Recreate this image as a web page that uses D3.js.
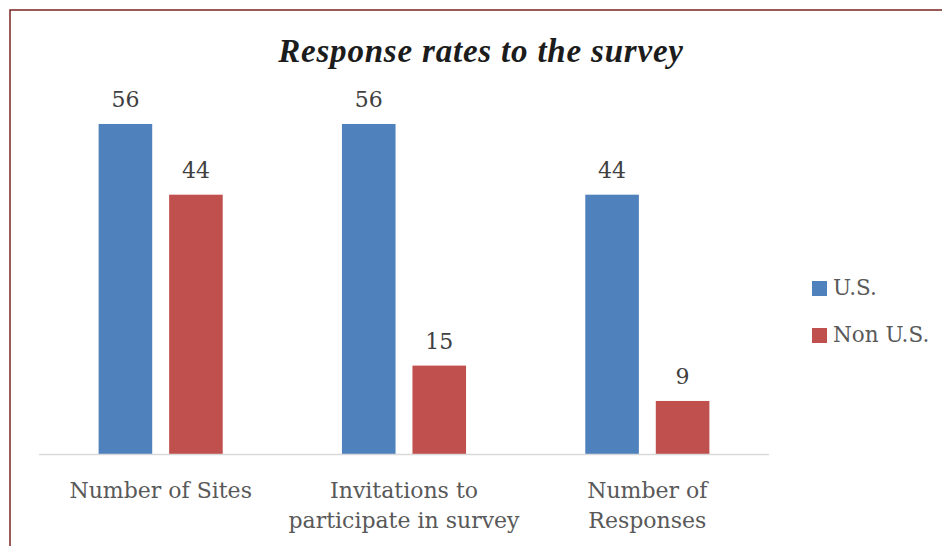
<!DOCTYPE html>
<html lang="en">
<head>
    <meta charset="utf-8">
    <title>Response rates to the survey</title>
    <script src="https://cdn.jsdelivr.net/npm/d3@7/dist/d3.min.js"></script>
    <style>
        body { margin: 0; background: #fff; }
        svg text { font-family: "DejaVu Serif", serif; }
    </style>
</head>
<body>
<div id="chart"></div>
<script>
    // data
    var categories = [["Number of Sites"], ["Invitations to", "participate in survey"], ["Number of", "Responses"]];
    var series = ["U.S.", "Non U.S."];
    var usValues = [56, 56, 44];
    var nonUsValues = [44, 15, 9];
    var colors = ["#4f81bd", "#c0504d"];

    var width = 942, height = 546;
    var baseY = 454;

    var svg = d3.select('#chart').append('svg')
        .attr('width', width)
        .attr('height', height);

    // frame
    svg.append('rect')
        .attr('x', 10).attr('y', 10)
        .attr('width', 945).attr('height', 545)
        .attr('fill', 'none')
        .attr('stroke', '#7b2424')
        .attr('stroke-width', 1.5);

    svg.append('text')
        .attr('x', 481).attr('y', 62)
        .attr('text-anchor', 'middle')
        .style('font-family', '"Liberation Serif", serif')
        .style('font-size', '33px')
        .style('letter-spacing', '0.8px')
        .style('font-weight', 'bold')
        .style('font-style', 'italic')
        .attr('fill', '#1c1c1c')
        .text('Response rates to the survey');

    var x0 = d3.scaleBand()
        .domain(d3.range(categories.length))
        .range([39, 769])
        .paddingInner(0.49)
        .paddingOuter(0.245);

    var x1 = d3.scaleBand()
        .domain(series)
        .range([0, x0.bandwidth()])
        .paddingInner(0.24);

    var y = d3.scaleLinear()
        .domain([0, 60])
        .range([baseY, baseY - 353.6]);

    var rows = categories.map(function(c, i) {
        return [
            { s: series[0], v: usValues[i] },
            { s: series[1], v: nonUsValues[i] }
        ];
    });

    var groups = svg.selectAll('g.cat')
        .data(rows)
        .enter()
        .append('g')
        .attr('class', 'cat')
        .attr('transform', function(d, i) { return 'translate(' + x0(i) + ',0)'; });

    groups.selectAll('rect')
        .data(function(d) { return d; })
        .enter()
        .append('rect')
        .attr('x', function(d) { return x1(d.s); })
        .attr('y', function(d) { return y(d.v); })
        .attr('width', x1.bandwidth())
        .attr('height', function(d) { return y(0) - y(d.v); })
        .attr('fill', function(d, i) { return colors[i]; });

    groups.selectAll('text.val')
        .data(function(d) { return d; })
        .enter()
        .append('text')
        .attr('class', 'val')
        .attr('x', function(d) { return x1(d.s) + x1.bandwidth() / 2; })
        .attr('y', function(d) { return y(d.v) - 17; })
        .attr('text-anchor', 'middle')
        .style('font-size', '22px')
        .attr('fill', '#404040')
        .text(function(d) { return d.v; });

    // axis line
    svg.append('line')
        .attr('x1', 39).attr('x2', 769)
        .attr('y1', baseY + 0.5).attr('y2', baseY + 0.5)
        .attr('stroke', '#d9d9d9')
        .attr('stroke-width', 1.5);

    // category labels
    svg.selectAll('text.cat')
        .data(categories)
        .enter()
        .append('text')
        .attr('class', 'cat')
        .attr('text-anchor', 'middle')
        .attr('fill', '#595959')
        .style('font-size', '22px')
        .attr('transform', function(d, i) { return 'translate(' + (x0(i) + x0.bandwidth() / 2) + ',498)'; })
        .selectAll('tspan')
        .data(function(d) { return d; })
        .enter()
        .append('tspan')
        .attr('x', 0)
        .attr('y', function(d, i) { return i * 30; })
        .text(function(d) { return d; });

    // legend
    var legend = svg.selectAll('g.legend')
        .data(series)
        .enter()
        .append('g')
        .attr('class', 'legend')
        .attr('transform', function(d, i) { return 'translate(812,' + (281 + i * 47) + ')'; });

    legend.append('rect')
        .attr('width', 15).attr('height', 15)
        .attr('fill', function(d, i) { return colors[i]; });

    legend.append('text')
        .attr('x', 21).attr('y', 14)
        .attr('fill', '#595959')
        .style('font-size', '21.5px')
        .text(function(d) { return d; });
</script>
</body>
</html>
